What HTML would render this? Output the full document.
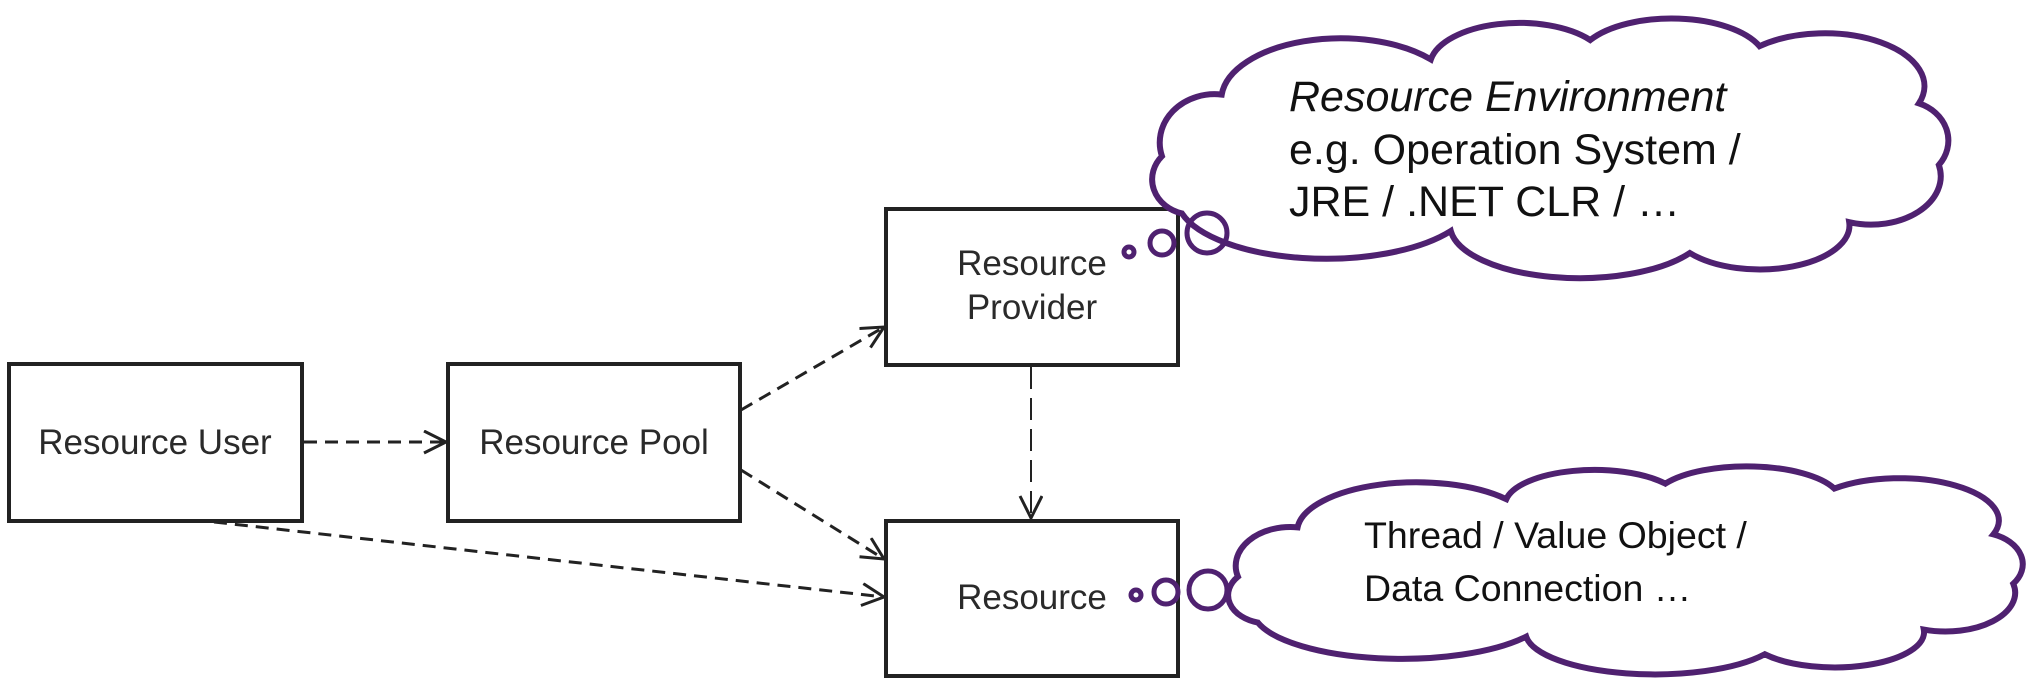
<!DOCTYPE html>
<html><head><meta charset="utf-8"><style>
html,body{margin:0;padding:0;background:#fff;}
svg{display:block;}
text{font-family:"Liberation Sans",sans-serif;}
</style></head><body>
<svg width="2030" height="695" viewBox="0 0 2030 695" xmlns="http://www.w3.org/2000/svg">
<defs>
<marker id="ar" markerUnits="userSpaceOnUse" markerWidth="30" markerHeight="30" refX="24" refY="12" orient="auto">
<path d="M2,1 L24,12 L2,23" fill="none" stroke="#222" stroke-width="3"/>
</marker>
<path id="cloud" d="M30,205 A40,40 0 0 1 10,140 A55,55 0 0 1 70,70 A120,70 0 0 1 280,30 A90,50 0 0 1 440,8 A95,50 0 0 1 610,15 A100,60 0 0 1 770,80 A45,45 0 0 1 790,150 A70,55 0 0 1 700,215 A90,50 0 0 1 540,250 A130,60 0 0 1 300,225 A150,70 0 0 1 30,205 Z" fill="#fff" stroke="#4f2170" stroke-width="6" vector-effect="non-scaling-stroke"/>
</defs>

<!-- boxes -->
<g fill="#fff" stroke="#222" stroke-width="4">
<rect x="9" y="364" width="293" height="157"/>
<rect x="448" y="364" width="292" height="157"/>
<rect x="886" y="209" width="292" height="156"/>
<rect x="886" y="521" width="292" height="155"/>
</g>
<g font-size="35" fill="#2a2a2a" text-anchor="middle">
<text x="155" y="454">Resource User</text>
<text x="594" y="454">Resource Pool</text>
<text x="1032" y="275">Resource</text>
<text x="1032" y="319">Provider</text>
<text x="1032" y="609">Resource</text>
</g>

<!-- connectors -->
<g fill="none" stroke="#222" stroke-width="3" stroke-dasharray="13 8" marker-end="url(#ar)">
<line x1="304" y1="442" x2="446" y2="442"/>
<line x1="741" y1="410" x2="884" y2="327"/>
<line x1="741" y1="470" x2="884" y2="559"/>
<line x1="214" y1="522" x2="884" y2="597"/>
</g>
<line x1="1031" y1="367" x2="1031" y2="518" stroke="#222" stroke-width="2" stroke-dasharray="22 9" marker-end="url(#ar)"/>

<!-- clouds -->
<use href="#cloud" transform="translate(1152,33) scale(0.996,0.88)"/>
<use href="#cloud" transform="translate(1228,478) scale(0.994,0.705)"/>

<g fill="none" stroke="#4f2170" stroke-width="5">
<circle cx="1129" cy="252" r="5"/>
<circle cx="1162" cy="243" r="12"/>
<circle cx="1207" cy="233" r="20"/>
<circle cx="1136" cy="595" r="5"/>
<circle cx="1166" cy="592" r="12"/>
<circle cx="1208" cy="590" r="19"/>
</g>

<g font-size="43" fill="#111">
<text x="1289" y="111" font-style="italic">Resource Environment</text>
<text x="1289" y="164">e.g. Operation System /</text>
<text x="1289" y="216">JRE / .NET CLR / …</text>
</g>
<g font-size="37.5" fill="#111">
<text x="1364" y="548">Thread / Value Object /</text>
<text x="1364" y="601">Data Connection …</text>
</g>
</svg>
</body></html>
